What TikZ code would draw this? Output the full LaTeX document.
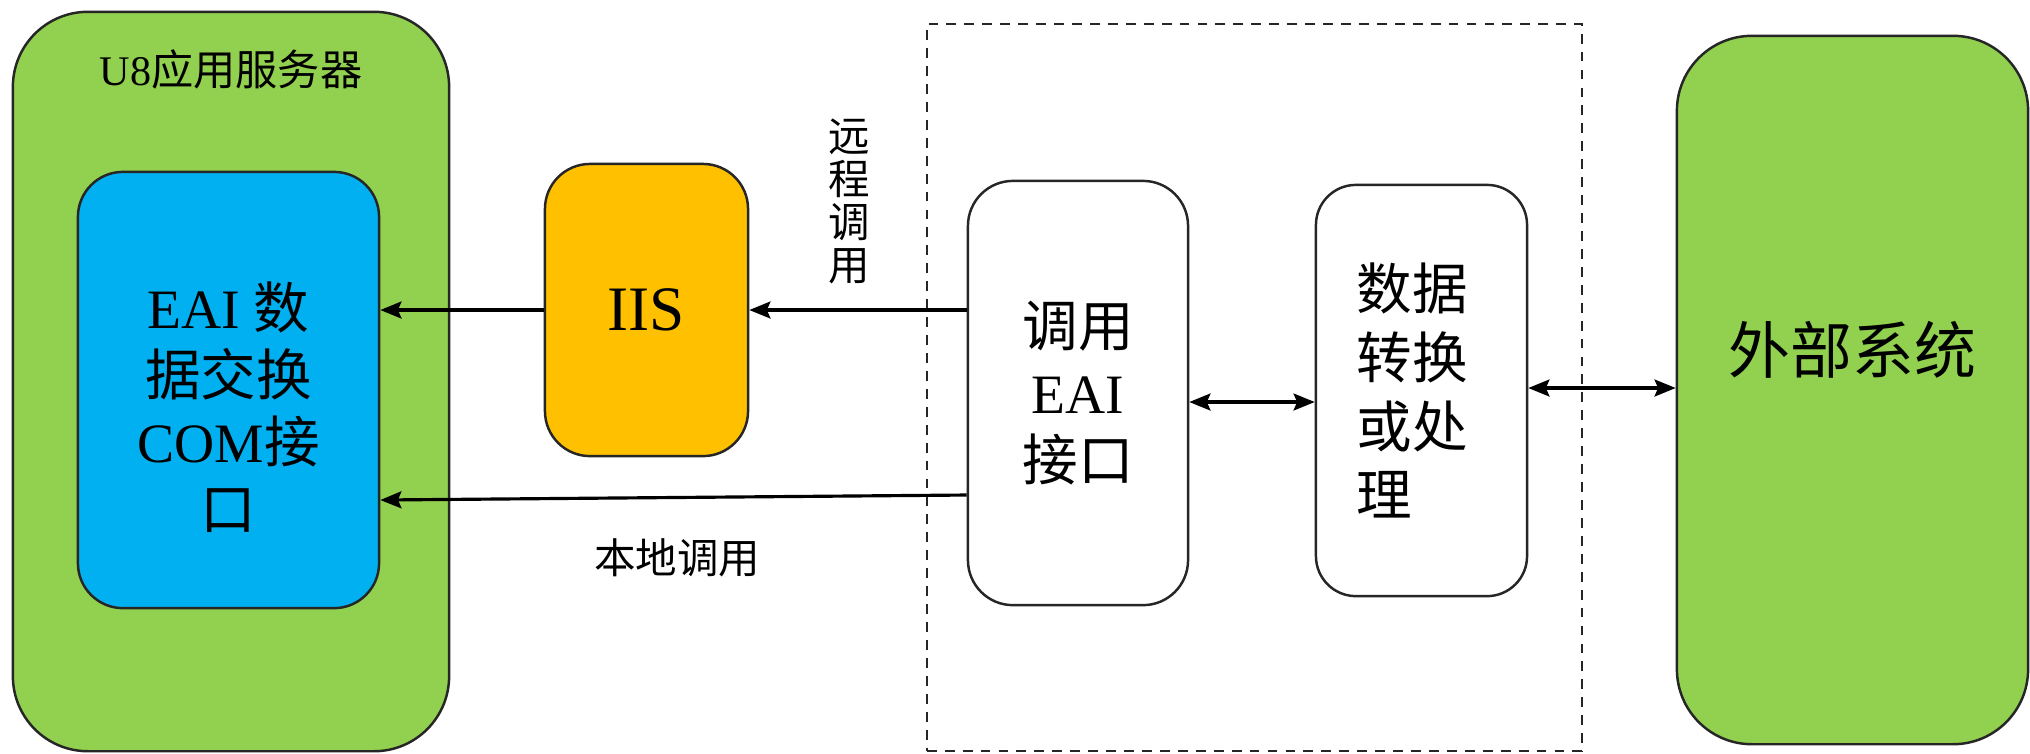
\documentclass[tikz,border=0pt]{standalone}
\usepackage{fontspec}
\setmainfont{Liberation Serif}
\newfontfamily\cjk{Noto Sans CJK SC}
\usetikzlibrary{arrows.meta, positioning, calc}
\definecolor{SrvGreen}{HTML}{92D050}
\definecolor{ComBlue}{HTML}{00B0F0}
\definecolor{IisGold}{HTML}{FFC000}

\begin{document}
\begin{tikzpicture}[
  x=0.01cm, y=-0.01cm,
  every node/.style={font=\fontsize{15.8}{19}\selectfont},
  bigbox/.style={draw=black!85, line width=0.7pt, rounded corners=0.75cm, fill=SrvGreen, inner sep=0pt},
  blockbox/.style={draw=black!85, line width=0.7pt, rounded corners=0.45cm, align=center, inner sep=0pt},
  region/.style={draw=black!85, line width=0.6pt, dash pattern=on 2.8pt off 2.3pt, inner sep=0pt},
  remark/.style={font=\cjk\fontsize{11.8}{12.2}\selectfont, align=center},
  arrow/.style={-{Stealth[length=6pt, width=4.8pt, inset=1pt]}, line width=0.9pt},
  twoway/.style={{Stealth[length=6pt, width=4.8pt, inset=1pt]}-{Stealth[length=6pt, width=4.8pt, inset=1pt]}, line width=0.9pt},
]

\useasboundingbox (0,0) rectangle (2030,753);

% EAI side (dashed frame)
\node[region, minimum width=6.55cm, minimum height=7.27cm] (eaiside) at (1254.5,387.5) {};

% U8 server
\node[bigbox, minimum width=4.36cm, minimum height=7.39cm] (server) at (231,381.5) {};
\node[font=\fontsize{12}{14}\selectfont] (servername) at ($(server.north)+(0,59)$) {U8{\cjk 应用服务器}};
\node[blockbox, fill=ComBlue, minimum width=3.01cm, minimum height=4.36cm] (com) at (228.5,390) {};
\node[align=center] (comtext) at ($(com)+(0,17)$)
  {EAI {\cjk 数}\\{\cjk 据交换}\\COM{\cjk 接}\\{\cjk 口}};

% IIS
\node[blockbox, fill=IisGold, minimum width=2.03cm, minimum height=2.92cm] (iis) at (646.5,310)
  {\fontsize{18}{20}\selectfont IIS};

% EAI call and conversion
\node[blockbox, fill=white, minimum width=2.2cm, minimum height=4.24cm] (eai) at (1078,393)
  {{\cjk 调用}\\EAI\\{\cjk 接口}};
\node[blockbox, fill=white, rounded corners=0.4cm, minimum width=2.11cm, minimum height=4.11cm] (conv) at (1421.5,390.5) {};
\node[align=left, font=\cjk\fontsize{15.8}{19.6}\selectfont] (convtext) at ($(conv)+(-9,0)$) {数据\\转换\\或处\\理};

% External system
\node[bigbox, minimum width=3.51cm, minimum height=7.08cm] (ext) at (1852.5,390) {};
\node[font=\cjk\fontsize{17.6}{20}\selectfont] (extname) at ($(ext)+(0,-40)$) {外部系统};

% Arrows
\draw[arrow] (iis.west) -- (iis.west -| com.east);
\draw[arrow] (eai.west |- iis.east) -- (iis.east);
\draw[arrow] ($(eai.west)+(0,102)$) -- ($(com.east)+(0,110)$);
\draw[twoway] ($(eai.east)+(0,9)$) -- ($(conv.west)+(0,11.5)$);
\draw[twoway] ($(conv.east)+(0,-2.5)$) -- ($(ext.west)+(0,-2)$);

% Call labels
\node[remark] (remote) at (849,201.5) {远\\程\\调\\用};
\node[remark] (local) at (677,558) {本地调用};

\end{tikzpicture}
\end{document}
